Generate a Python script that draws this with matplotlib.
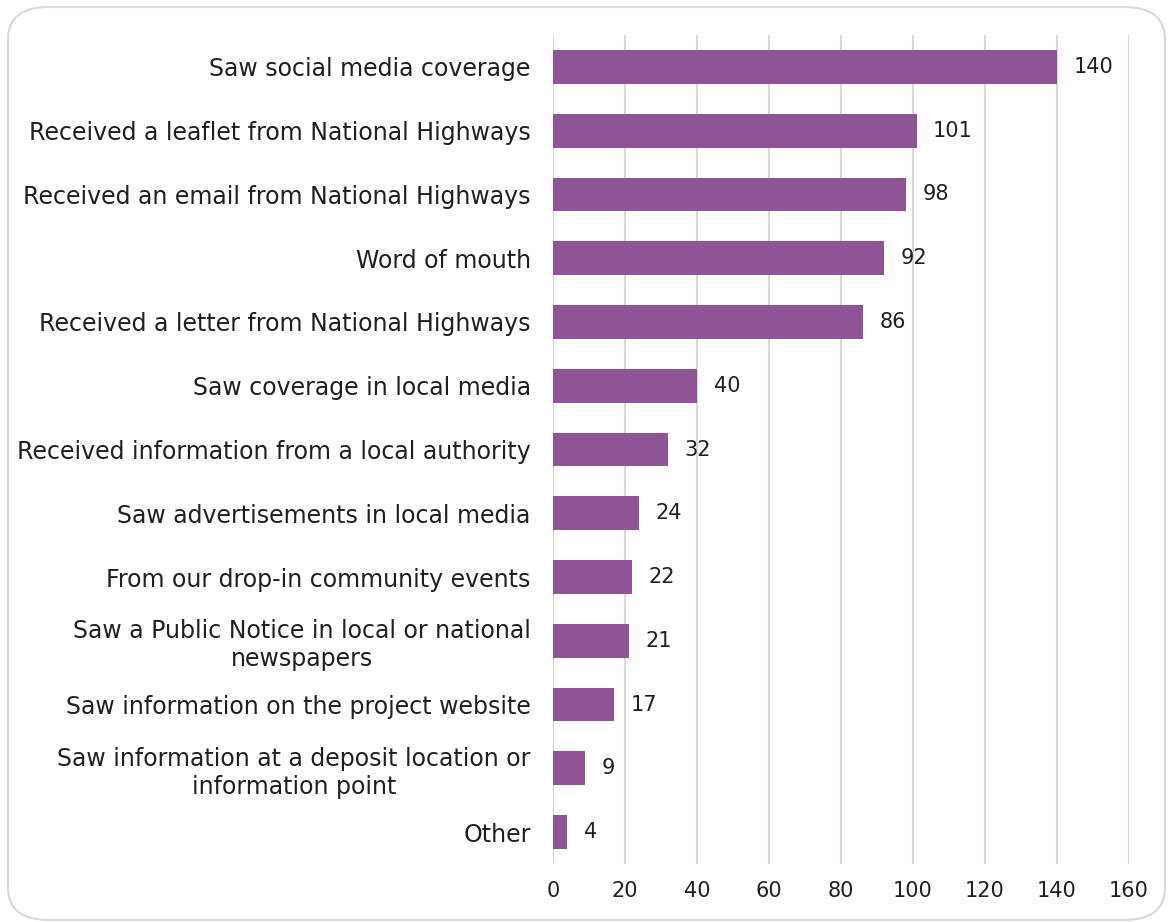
import matplotlib.pyplot as plt
import matplotlib.patches as patches

categories = [
    "Saw social media coverage",
    "Received a leaflet from National Highways",
    "Received an email from National Highways",
    "Word of mouth",
    "Received a letter from National Highways",
    "Saw coverage in local media",
    "Received information from a local authority",
    "Saw advertisements in local media",
    "From our drop-in community events",
    "Saw a Public Notice in local or national\nnewspapers",
    "Saw information on the project website",
    "Saw information at a deposit location or\ninformation point",
    "Other",
]
values = [140, 101, 98, 92, 86, 40, 32, 24, 22, 21, 17, 9, 4]
xticks = [0, 20, 40, 60, 80, 100, 120, 140, 160]

plt.rcParams['font.family'] = ['DejaVu Sans']

fig = plt.figure(figsize=(11.69, 9.22), dpi=100)
ax = fig.add_axes([0.473, 0.0629, 0.4927, 0.8991])

# rounded outer frame
frame = patches.FancyBboxPatch((8 / 1169, 2 / 922), 1157 / 1169, 913 / 922,
                               boxstyle="round,pad=0,rounding_size=0.035",
                               transform=fig.transFigure, facecolor='white',
                               edgecolor='#D9D9D9', linewidth=1.5, zorder=-10)
fig.patches.append(frame)
ax.set_facecolor('none')

pos = list(range(len(categories)))
ax.barh(pos, values, height=0.53, color='#8E5496', zorder=3)
for p, v in zip(pos, values):
    ax.annotate(str(v), (v, p), xytext=(12, 0), textcoords='offset points',
                ha='left', va='center', fontsize=15, color='#1f1f1f')

ax.set_xlim(0, 160)
ax.set_ylim(len(categories) - 0.5, -0.5)
ax.set_xticks(xticks)
ax.set_yticks(pos)
ax.set_yticklabels(categories, fontsize=17, color='#1f1f1f',
                   multialignment='center', linespacing=1.2)
ax.tick_params(axis='x', labelsize=15, labelcolor='#1f1f1f', length=0, pad=12)
ax.tick_params(axis='y', length=0, pad=16)
ax.xaxis.grid(True, color='#D9D9D9', linewidth=1.5, zorder=0)
ax.set_axisbelow(True)
for s in ax.spines.values():
    s.set_visible(False)

plt.savefig('out.png', dpi=100)
